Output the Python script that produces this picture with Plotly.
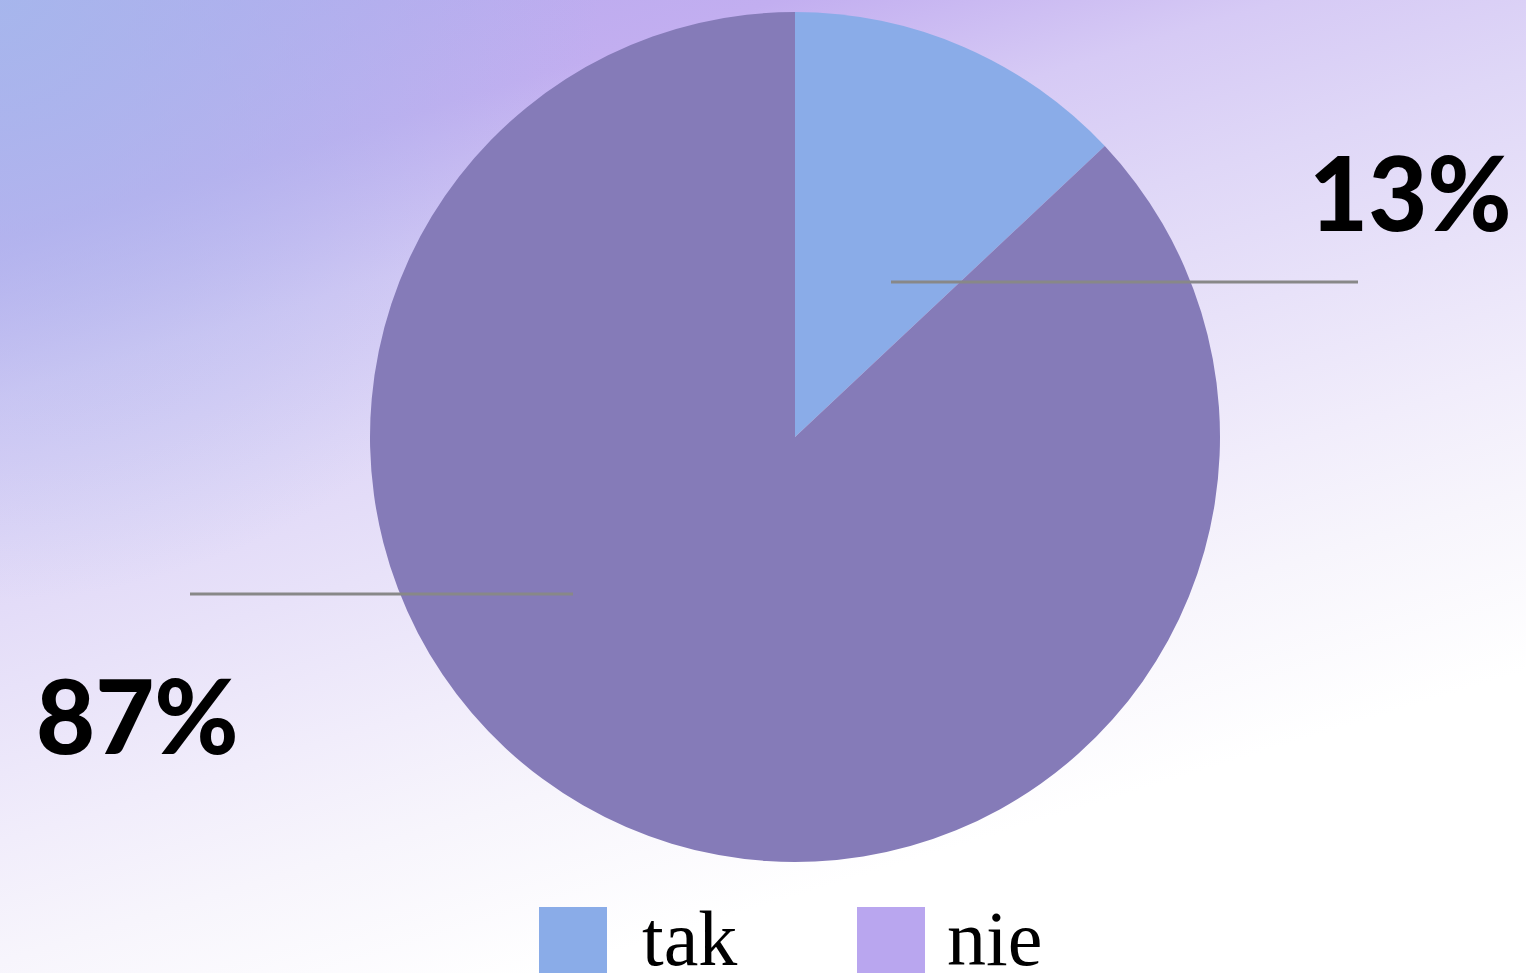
import base64
import plotly.graph_objects as go

# ---- data ----
categories = ["tak", "nie"]
values = [13, 87]
slice_colors = ["#8AACE8", "#857BB8"]
legend_colors = ["#8AACE8", "#B9A6EF"]

W, H = 1526, 973

# ---- background gradient (SVG) ----
svg = f'''<svg xmlns="http://www.w3.org/2000/svg" width="{W}" height="{H}" viewBox="0 0 {W} {H}">
<defs>
<linearGradient id="g1" gradientUnits="userSpaceOnUse" x1="0" y1="0" x2="339" y2="1098">
<stop offset="0" stop-color="#B4A8EE"/>
<stop offset="0.2" stop-color="#C2AEF0"/>
<stop offset="0.33" stop-color="#D6CAF5"/>
<stop offset="0.45" stop-color="#DFD7F7"/>
<stop offset="0.7" stop-color="#F1EDFB"/>
<stop offset="0.8" stop-color="#F7F5FC"/>
<stop offset="0.95" stop-color="#FFFFFF"/>
</linearGradient>
<radialGradient id="g2" gradientUnits="userSpaceOnUse" cx="0" cy="0" r="600">
<stop offset="0" stop-color="#A4B8EC" stop-opacity="0.85"/>
<stop offset="1" stop-color="#A4B8EC" stop-opacity="0"/>
</radialGradient>
</defs>
<rect width="{W}" height="{H}" fill="url(#g1)"/>
<rect width="{W}" height="{H}" fill="url(#g2)"/>
</svg>'''
bg_src = "data:image/svg+xml;base64," + base64.b64encode(svg.encode()).decode()

# pie geometry
cx, cy, r = 795, 437, 425

fig = go.Figure()
fig.add_trace(go.Pie(
    labels=categories,
    values=values,
    marker=dict(colors=slice_colors, line=dict(width=0)),
    sort=False,
    direction="clockwise",
    rotation=0,
    textinfo="none",
    hoverinfo="label+percent",
    showlegend=False,
    domain=dict(x=[(cx - r) / W, (cx + r) / W], y=[(H - cy - r) / H, (H - cy + r) / H]),
))

def px(x):
    return x / W

def py(y):
    return 1 - y / H

total = sum(values)
pct = [f"{v / total * 100:.0f}%" for v in values]

label_pos = [(1410, 192), (137, 714)]
line_pos = [((891, 282), (1358, 282)), ((190, 594), (573, 594))]

annotations = []
shapes = []
for i in range(len(values)):
    lx, ly = label_pos[i]
    annotations.append(dict(
        x=px(lx), y=py(ly), xref="paper", yref="paper", text=pct[i], showarrow=False,
        xanchor="center", yanchor="middle",
        font=dict(family="Lato", size=102, color="#000000", weight=900),
    ))
    (x0, y0), (x1, y1) = line_pos[i]
    shapes.append(dict(type="line", xref="paper", yref="paper",
                       x0=px(x0), y0=py(y0), x1=px(x1), y1=py(y1),
                       line=dict(color="#888888", width=3)))

# custom legend
leg_sq = [(539, 907), (857, 907)]
leg_txt = [640, 945]
for i, name in enumerate(categories):
    sx, sy = leg_sq[i]
    shapes.append(dict(type="rect", xref="paper", yref="paper",
                       x0=px(sx), x1=px(sx + 68), y0=py(sy), y1=py(sy + 68),
                       fillcolor=legend_colors[i], line=dict(width=0)))
    annotations.append(dict(
        x=px(leg_txt[i]), y=py(938), xref="paper", yref="paper", text=name, showarrow=False,
        xanchor="left", yanchor="middle",
        font=dict(family="Liberation Serif", size=78, color="#000000"),
    ))

fig.update_layout(
    width=W, height=H,
    margin=dict(l=0, r=0, t=0, b=0),
    paper_bgcolor="#FFFFFF",
    plot_bgcolor="rgba(0,0,0,0)",
    images=[dict(source=bg_src, xref="paper", yref="paper", x=0, y=1, sizex=1, sizey=1,
                 xanchor="left", yanchor="top", sizing="stretch", layer="below")],
    shapes=shapes,
    annotations=annotations,
)

fig.write_html("out.html", config={"displayModeBar": False},
               post_script="document.body.style.margin='0px';document.body.style.overflow='hidden';")
